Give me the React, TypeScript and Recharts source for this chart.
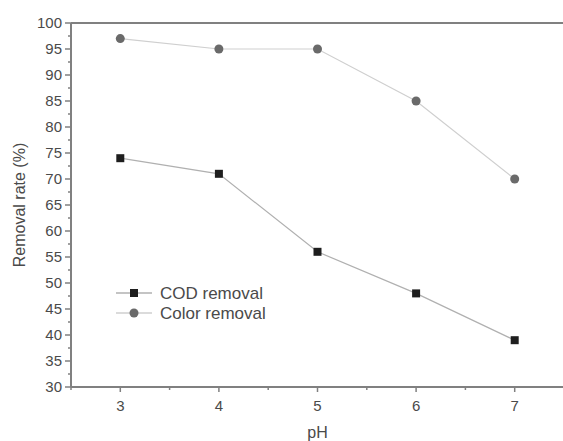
import React from "react";
import {
  LineChart,
  Line,
  XAxis,
  YAxis,
  ReferenceLine,
} from "recharts";

const phValues = [3, 4, 5, 6, 7];
const codRemoval = [74, 71, 56, 48, 39];
const colorRemoval = [97, 95, 95, 85, 70];

const xMajorTicks = [3, 4, 5, 6, 7];
const xMinorTicks = [2.5, 3.5, 4.5, 5.5, 6.5, 7.5];
const yMajorTicks = [30, 35, 40, 45, 50, 55, 60, 65, 70, 75, 80, 85, 90, 95, 100];
const yMinorTicks = [32.5, 37.5, 42.5, 47.5, 52.5, 57.5, 62.5, 67.5, 72.5, 77.5, 82.5, 87.5, 92.5, 97.5];

const data = phValues.map((ph, i) => ({
  ph,
  cod: codRemoval[i],
  color: colorRemoval[i],
}));

const FONT = "Liberation Sans, Arial, sans-serif";
const AXIS = "#808080";
const TEXT = "#4a4a4a";

const XTick = (props: any) => {
  const { x, y, payload } = props;
  const major = xMajorTicks.includes(payload.value);
  return (
    <g>
      <line x1={x} x2={x} y1={y} y2={y + (major ? 5 : 3)} stroke={AXIS} strokeWidth={1.5} />
      {major && (
        <text x={x} y={y + 24} textAnchor="middle" fontSize={15} fill={TEXT} fontFamily={FONT}>
          {payload.value}
        </text>
      )}
    </g>
  );
};

const YTick = (props: any) => {
  const { x, y, payload } = props;
  const major = yMajorTicks.includes(payload.value);
  return (
    <g>
      <line x1={x - (major ? 6 : 3)} x2={x} y1={y} y2={y} stroke={AXIS} strokeWidth={1.5} />
      {major && (
        <text x={x - 9} y={y + 5} textAnchor="end" fontSize={15} fill={TEXT} fontFamily={FONT}>
          {payload.value}
        </text>
      )}
    </g>
  );
};

const SquareDot = (props: any) => {
  const { cx, cy } = props;
  if (cx == null || cy == null) return null;
  return <rect x={cx - 4} y={cy - 4} width={8} height={8} fill="#1e1e1e" />;
};

const CircleDot = (props: any) => {
  const { cx, cy } = props;
  if (cx == null || cy == null) return null;
  return <circle cx={cx} cy={cy} r={4.5} fill="#6a6a6a" />;
};

const legendItems = [
  { label: "COD removal", line: "#b0b0b0", marker: "square" },
  { label: "Color removal", line: "#cfcfcf", marker: "circle" },
];

const LegendBox = () => (
  <svg width={180} height={44} style={{ position: "absolute", left: 112, top: 282 }}>
    {legendItems.map((item, i) => {
      const y = 11 + i * 20;
      return (
        <g key={item.label}>
          <line x1={4} x2={40} y1={y} y2={y} stroke={item.line} strokeWidth={1.5} />
          {item.marker === "square" ? (
            <rect x={18} y={y - 4} width={8} height={8} fill="#1e1e1e" />
          ) : (
            <circle cx={22} cy={y} r={4.5} fill="#6a6a6a" />
          )}
          <text x={48} y={y + 6} fontSize={17} fill={TEXT} fontFamily={FONT}>
            {item.label}
          </text>
        </g>
      );
    })}
  </svg>
);

export default function App() {
  return (
    <div
      style={{
        position: "absolute",
        left: 0,
        top: 0,
        width: 563,
        height: 441,
        overflow: "hidden",
        background: "#fff",
      }}
    >
      <LineChart
        width={570}
        height={441}
        data={data}
        margin={{ top: 23, right: 6, bottom: 0, left: 0 }}
      >
        <XAxis
          dataKey="ph"
          type="number"
          domain={[2.5, 7.5]}
          ticks={[...xMinorTicks, ...xMajorTicks].sort((a, b) => a - b)}
          interval={0}
          tickSize={0}
          tickMargin={0}
          axisLine={{ stroke: AXIS, strokeWidth: 2 }}
          tickLine={false}
          tick={<XTick />}
          height={54}
          label={{
            value: "pH",
            position: "insideBottom",
            offset: 3,
            fill: TEXT,
            fontSize: 16,
            fontFamily: FONT,
          }}
        />
        <YAxis
          type="number"
          domain={[30, 100]}
          ticks={[...yMinorTicks, ...yMajorTicks].sort((a, b) => a - b)}
          interval={0}
          tickSize={0}
          tickMargin={0}
          axisLine={{ stroke: AXIS, strokeWidth: 2 }}
          tickLine={false}
          tick={<YTick />}
          width={71}
          label={{
            value: "Removal rate (%)",
            angle: -90,
            position: "insideLeft",
            offset: 19,
            fill: TEXT,
            fontSize: 16,
            fontFamily: FONT,
            style: { textAnchor: "middle" },
          }}
        />
        <ReferenceLine y={100} stroke={AXIS} strokeWidth={2} />
        <Line
          dataKey="cod"
          stroke="#b0b0b0"
          strokeWidth={1.2}
          dot={<SquareDot />}
          activeDot={false}
          isAnimationActive={false}
        />
        <Line
          dataKey="color"
          stroke="#cfcfcf"
          strokeWidth={1.2}
          dot={<CircleDot />}
          activeDot={false}
          isAnimationActive={false}
        />
      </LineChart>
      <LegendBox />
    </div>
  );
}
